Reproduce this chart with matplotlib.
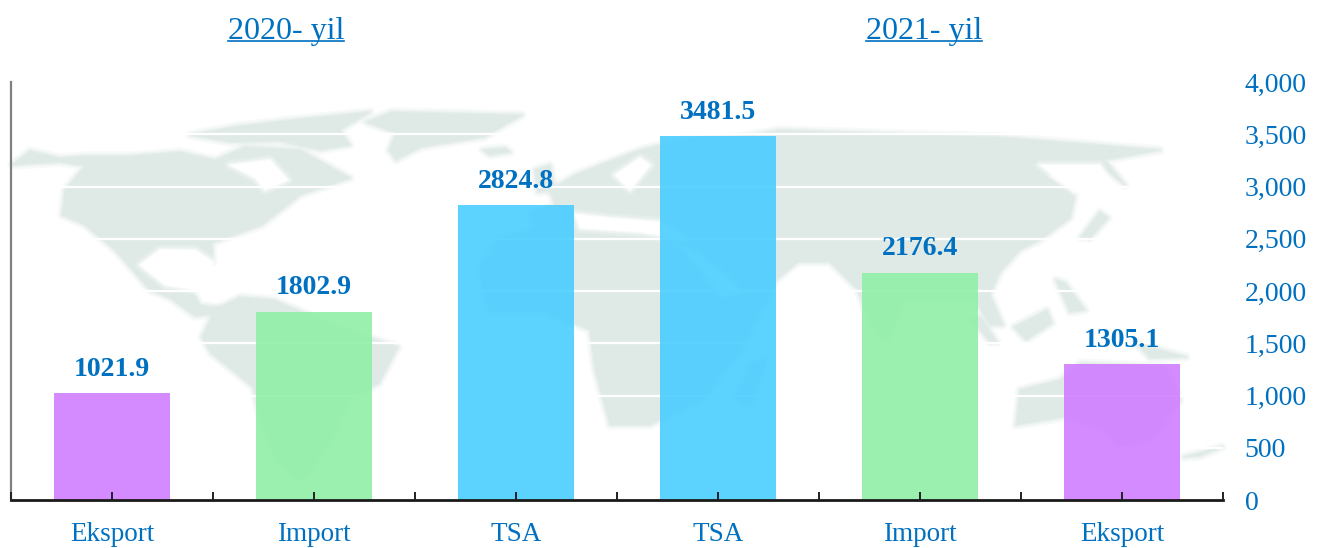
import matplotlib
matplotlib.use("Agg")
import matplotlib.pyplot as plt
from matplotlib.lines import Line2D
from matplotlib.patches import Polygon

plt.rcParams["font.family"] = ["Liberation Serif", "DejaVu Serif"]

# Chart data
CATEGORIES = ["Eksport", "Import", "TSA", "TSA", "Import", "Eksport"]
VALUES = [1021.9, 1802.9, 2824.8, 3481.5, 2176.4, 1305.1]
BAR_COLORS = ["#cf7bff", "#8eefa4", "#45ccff", "#45ccff", "#8eefa4", "#cf7bff"]
Y_TICKS = [0, 500, 1000, 1500, 2000, 2500, 3000, 3500, 4000]
YEAR_TITLES = ["2020- yil", "2021- yil"]

BLUE = "#0070c0"
LAND = "#dfeae7"

# Background map, rough outlines in picture pixels
LAND_SHAPES = [
    # north america
    [(12, 165), (30, 151), (60, 158), (85, 156), (130, 156), (180, 152), (215, 160), (245, 147),
     (300, 150), (350, 178), (300, 195), (262, 225), (212, 243), (213, 262), (195, 250),
     (160, 248), (140, 265), (165, 285), (192, 290), (200, 305), (222, 308), (215, 314),
     (195, 316), (170, 298), (150, 290), (115, 250), (85, 225), (62, 215), (65, 190), (85, 166),
     (60, 162)],
    # arctic islands
    [(190, 135), (240, 126), (300, 119), (370, 112), (340, 130), (350, 145), (320, 150), (280, 141), (230, 142)],
    # greenland
    [(392, 112), (522, 115), (484, 137), (421, 147), (396, 160), (389, 150), (396, 133), (366, 122)],
    # iceland
    [(483, 150), (505, 148), (510, 152), (490, 155)],
    # south america
    [(202, 337), (215, 310), (240, 297), (274, 300), (337, 327), (398, 347), (379, 383),
     (349, 400), (333, 437), (303, 480), (278, 463), (261, 420), (253, 387), (211, 353)],
    # europe and asia
    [(550, 190), (575, 175), (600, 165), (640, 150), (680, 140), (740, 137), (780, 130),
     (900, 134), (1000, 137), (1160, 150), (1105, 160), (1125, 185), (1100, 165), (1045, 175),
     (1075, 195), (1070, 218), (1040, 240), (1020, 250), (1000, 272), (990, 295), (1003, 325),
     (990, 325), (975, 300), (960, 300), (935, 300), (905, 300), (885, 345), (865, 310),
     (858, 290), (830, 262), (798, 262), (776, 280), (760, 305), (720, 265), (690, 245),
     (640, 235), (600, 228), (545, 240), (530, 215), (555, 205)],
    # africa
    [(480, 270), (500, 240), (560, 225), (640, 235), (680, 250), (720, 300), (770, 290),
     (740, 350), (700, 400), (650, 425), (610, 425), (595, 370), (590, 330), (540, 310), (490, 310)],
    # madagascar
    [(752, 365), (765, 360), (750, 405), (737, 400)],
    # britain
    [(535, 170), (550, 165), (555, 190), (538, 192)],
    # japan
    [(1081, 237), (1100, 212), (1108, 218), (1090, 238)],
    # sumatra
    [(980, 317), (997, 342), (990, 342), (972, 320)],
    # borneo
    [(1014, 327), (1047, 310), (1052, 323), (1026, 340)],
    # philippines
    [(1056, 280), (1065, 283), (1085, 310), (1070, 312)],
    # new guinea
    [(1136, 343), (1186, 357), (1150, 358)],
    # australia
    [(1020, 390), (1060, 380), (1081, 363), (1165, 367), (1180, 400), (1153, 437), (1119, 447),
     (1106, 430), (1064, 417), (1016, 425)],
    # new zealand
    [(1184, 457), (1222, 447), (1200, 456)],
]

# Water cut out of the land
WATER_SHAPES = [
    # hudson bay
    [(230, 165), (270, 160), (288, 180), (265, 190), (255, 178)],
    # gulf of mexico
    [(140, 265), (160, 250), (195, 250), (213, 262), (195, 290), (165, 285)],
    # baltic
    [(615, 175), (640, 158), (650, 165), (630, 190)],
    # mediterranean
    [(575, 214), (610, 218), (660, 222), (690, 240), (640, 232), (580, 228)],
    # sea of okhotsk
    [(1040, 165), (1100, 165), (1110, 185), (1075, 192)],
]


def draw_soft(ax, shape, color) -> None:
    # A few wide see-through edges so the coast is not a hard line
    for width, alpha in [(7, 0.2), (4, 0.3), (2, 0.5)]:
        ax.add_patch(Polygon(shape, closed=True, fill=False, edgecolor=color, linewidth=width,
                             alpha=alpha, joinstyle="round"))
    ax.add_patch(Polygon(shape, closed=True, facecolor=color, edgecolor="none"))


def main() -> None:
    fig = plt.figure(figsize=(13.24, 5.48), dpi=100, facecolor="white")

    # Map goes underneath
    bg = fig.add_axes([0, 0, 1, 1], zorder=0)
    bg.set_xlim(0, 1324)
    bg.set_ylim(548, 0)
    bg.axis("off")
    for shape in LAND_SHAPES:
        draw_soft(bg, shape, LAND)
    for shape in WATER_SHAPES:
        draw_soft(bg, shape, "white")

    left, right, top, bottom = 11, 1223, 82, 500
    ax = fig.add_axes([left / 1324, 1 - bottom / 548, (right - left) / 1324, (bottom - top) / 548], zorder=1)
    ax.patch.set_visible(False)
    ax.set_axisbelow(False)

    positions = list(range(len(VALUES)))
    ax.set_xlim(-0.5, len(VALUES) - 0.5)
    ax.set_ylim(0, 4000)

    # White lines stay behind the bars, ticks stay in front
    ax.hlines(Y_TICKS[1:-1], -0.5, len(VALUES) - 0.5, color="white", linewidth=1.6, zorder=1)
    bars = ax.bar(positions, VALUES, width=0.574, color=BAR_COLORS, alpha=0.88, zorder=2, linewidth=0)
    ax.bar_label(bars, labels=[f"{v:.1f}" for v in VALUES], padding=8, color=BLUE,
                 fontsize=20, fontweight="bold", zorder=4)

    ax.set_xticks(positions)
    ax.set_xticklabels(CATEGORIES)
    ax.set_xticks([p - 0.5 for p in positions] + [positions[-1] + 0.5], minor=True)
    ax.tick_params(axis="x", which="both", direction="in", length=6, width=1.4, color="#222222")
    ax.tick_params(axis="x", which="major", pad=16, labelcolor=BLUE, labelsize=19.5)

    ax.yaxis.tick_right()
    ax.set_yticks(Y_TICKS)
    ax.set_yticklabels([f"{t:,}" for t in Y_TICKS])
    ax.tick_params(axis="y", length=0, pad=15.5, labelcolor=BLUE, labelsize=20)

    ax.spines["top"].set_visible(False)
    ax.spines["right"].set_visible(False)
    ax.spines["left"].set_color("#808080")
    ax.spines["left"].set_linewidth(1.6)
    ax.spines["bottom"].set_color("#1a1a1a")
    ax.spines["bottom"].set_linewidth(2)

    # Underlined year headings
    fig.canvas.draw()
    renderer = fig.canvas.get_renderer()
    for title, x_px in zip(YEAR_TITLES, [286, 924]):
        txt = fig.text(x_px / 1324, 1 - 31 / 548, title, ha="center", va="center", color=BLUE, fontsize=23)
        box = txt.get_window_extent(renderer)
        y_line = 1 - 41 / 548
        fig.add_artist(Line2D([box.x0 / 1324, box.x1 / 1324], [y_line, y_line], color=BLUE, linewidth=1.2))

    fig.savefig("out.png", dpi=100)


if __name__ == "__main__":
    main()
